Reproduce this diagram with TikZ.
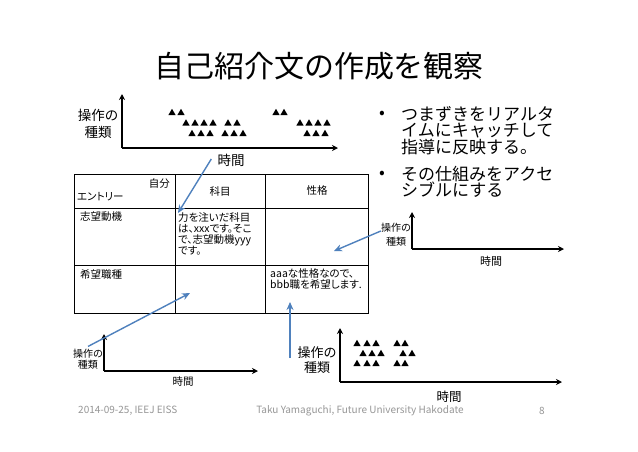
\documentclass[tikz,border=0pt]{standalone}
\usepackage{fontspec}
\setmainfont{Noto Sans CJK JP}
\newfontfamily\propfont[RawFeature=+palt]{Noto Sans CJK JP}
\usetikzlibrary{arrows.meta}
\definecolor{arrowblue}{RGB}{79,129,189}
\definecolor{footgray}{RGB}{150,150,150}
\tikzset{
  axis/.style={line width=1.5pt, -{Stealth[length=6pt,width=6pt]}},
  bluearrow/.style={arrowblue, line width=1.4pt, -{Stealth[length=8pt,width=7pt]}},
  lbl/.style={inner sep=0pt, align=center},
  cell/.style={inner sep=0pt, anchor=north west, align=left, font=\propfont\fontsize{10.5}{11}\selectfont},
  tablerule/.style={line width=0.8pt},
  foot/.style={inner sep=0pt, text=footgray, font=\fontsize{10}{10}\selectfont},
  tri/.pic={\fill (-3.6,3) -- (3.6,3) -- (0,-3.2) -- cycle;},
}
\begin{document}
\begin{tikzpicture}[x=1pt,y=-1pt]
\useasboundingbox[fill=white] (0,0) rectangle (638,451);

% title
\node[lbl, font=\fontsize{30}{30}\selectfont] (title) at (319,66) {自己紹介文の作成を観察};

% ---------- top chart ----------
\coordinate (o1) at (122,148);
\coordinate (y1) at (122,94);
\coordinate (x1) at (338,148);
\draw[axis] (o1) -- (y1);
\draw[axis] (o1) -- (x1);
\node[lbl, font=\fontsize{13.5}{17}\selectfont] (l1) at (98,124) {操作の\\種類};
\node[lbl, font=\fontsize{13.5}{13.5}\selectfont] (t1) at (231,160) {時間};
\foreach \x in {172,181,276,284} \pic at (\x,112) {tri};
\foreach \x in {186,195,204,213,228,237,300,309,318,327} \pic at (\x,122.5) {tri};
\foreach \x in {192,201,210,225,234,243,307,316,325} \pic at (\x,133) {tri};

% ---------- table ----------
\draw[tablerule] (74,174) rectangle (368,313);
\draw[tablerule] (74,208) -- (368,208);
\draw[tablerule] (74,265) -- (368,265);
\draw[tablerule] (175,174) -- (175,313);
\draw[tablerule] (265,174) -- (265,313);
\node[cell, anchor=east] (self) at (170,184) {自分};
\node[cell, anchor=west] (entry) at (77,197) {エントリー};
\node[cell, anchor=center] (subj) at (220,191) {科目};
\node[cell, anchor=center] (pers) at (317,191) {性格};
\node[cell, anchor=west] (motive) at (80,217) {志望動機};
\node[cell] (motivetext) at (178,212) {力を注いだ科目\\は、xxxです。そこ\\で、志望動機yyy\\です。};
\node[cell, anchor=west] (job) at (80,274) {希望職種};
\node[cell] (jobtext) at (270,268) {aaaな性格なので、\\bbb職を希望します.};
\coordinate (cellA) at (178,213);
\coordinate (cellB) at (334,251);
\coordinate (cellC) at (190,293);
\coordinate (cellD) at (290,302);

% ---------- bullets ----------
\node[inner sep=0pt, font=\fontsize{17}{17}\selectfont] (b1) at (382,115) {•};
\node[inner sep=0pt, anchor=north west, align=left, font=\fontsize{17}{16.5}\selectfont] (b1t) at (401,106) {つまずきをリアルタ\\イムにキャッチして\\指導に反映する。};
\node[inner sep=0pt, font=\fontsize{17}{17}\selectfont] (b2) at (382,175) {•};
\node[inner sep=0pt, anchor=north west, align=left, font=\fontsize{17}{16.5}\selectfont] (b2t) at (401,166) {その仕組みをアクセ\\シブルにする};

% ---------- right chart ----------
\coordinate (o2) at (412,249);
\coordinate (y2) at (412,212);
\coordinate (x2) at (564,249);
\draw[axis] (o2) -- (y2);
\draw[axis] (o2) -- (x2);
\node[lbl, font=\fontsize{10}{14}\selectfont] (l2) at (396,235) {操作の\\種類};
\node[lbl, font=\fontsize{11}{11}\selectfont] (t2) at (491,261) {時間};

% ---------- bottom-left chart ----------
\coordinate (o3) at (104,371);
\coordinate (y3) at (104,334);
\coordinate (x3) at (258,371);
\draw[axis] (o3) -- (y3);
\draw[axis] (o3) -- (x3);
\node[lbl, font=\fontsize{10}{11.5}\selectfont] (l3) at (88,359) {操作の\\種類};
\node[lbl, font=\fontsize{10.5}{10.5}\selectfont] (t3) at (183,382) {時間};

% ---------- bottom-right chart ----------
\coordinate (o4) at (340,382);
\coordinate (y4) at (340,328);
\coordinate (x4) at (562,382);
\draw[axis] (o4) -- (y4);
\draw[axis] (o4) -- (x4);
\node[lbl, font=\fontsize{13}{15}\selectfont] (l4) at (317,360) {操作の\\種類};
\node[lbl, font=\fontsize{12.5}{12.5}\selectfont] (t4) at (449,397) {時間};
\foreach \x in {357,367,376,397,405} \pic at (\x,343) {tri};
\foreach \x in {363,372,381,403,412} \pic at (\x,353) {tri};
\foreach \x in {357,367,376,397,405} \pic at (\x,363) {tri};
\coordinate (s4) at (290,358);

% ---------- blue arrows ----------
\draw[bluearrow] (t1.west) ++(-6,-1) -- (cellA);
\draw[bluearrow] (l2.west |- 0,231) -- (cellB);
\draw[bluearrow] (l3.north) ++(0,-2) -- (cellC);
\draw[bluearrow] (s4) -- (cellD);

% ---------- footer ----------
\node[foot, anchor=west] (f1) at (78,411) {2014-09-25, IEEJ EISS};
\node[foot] (f2) at (360,411) {Taku Yamaguchi, Future University Hakodate};
\node[foot] (f3) at (542,411) {8};
\end{tikzpicture}
\end{document}
